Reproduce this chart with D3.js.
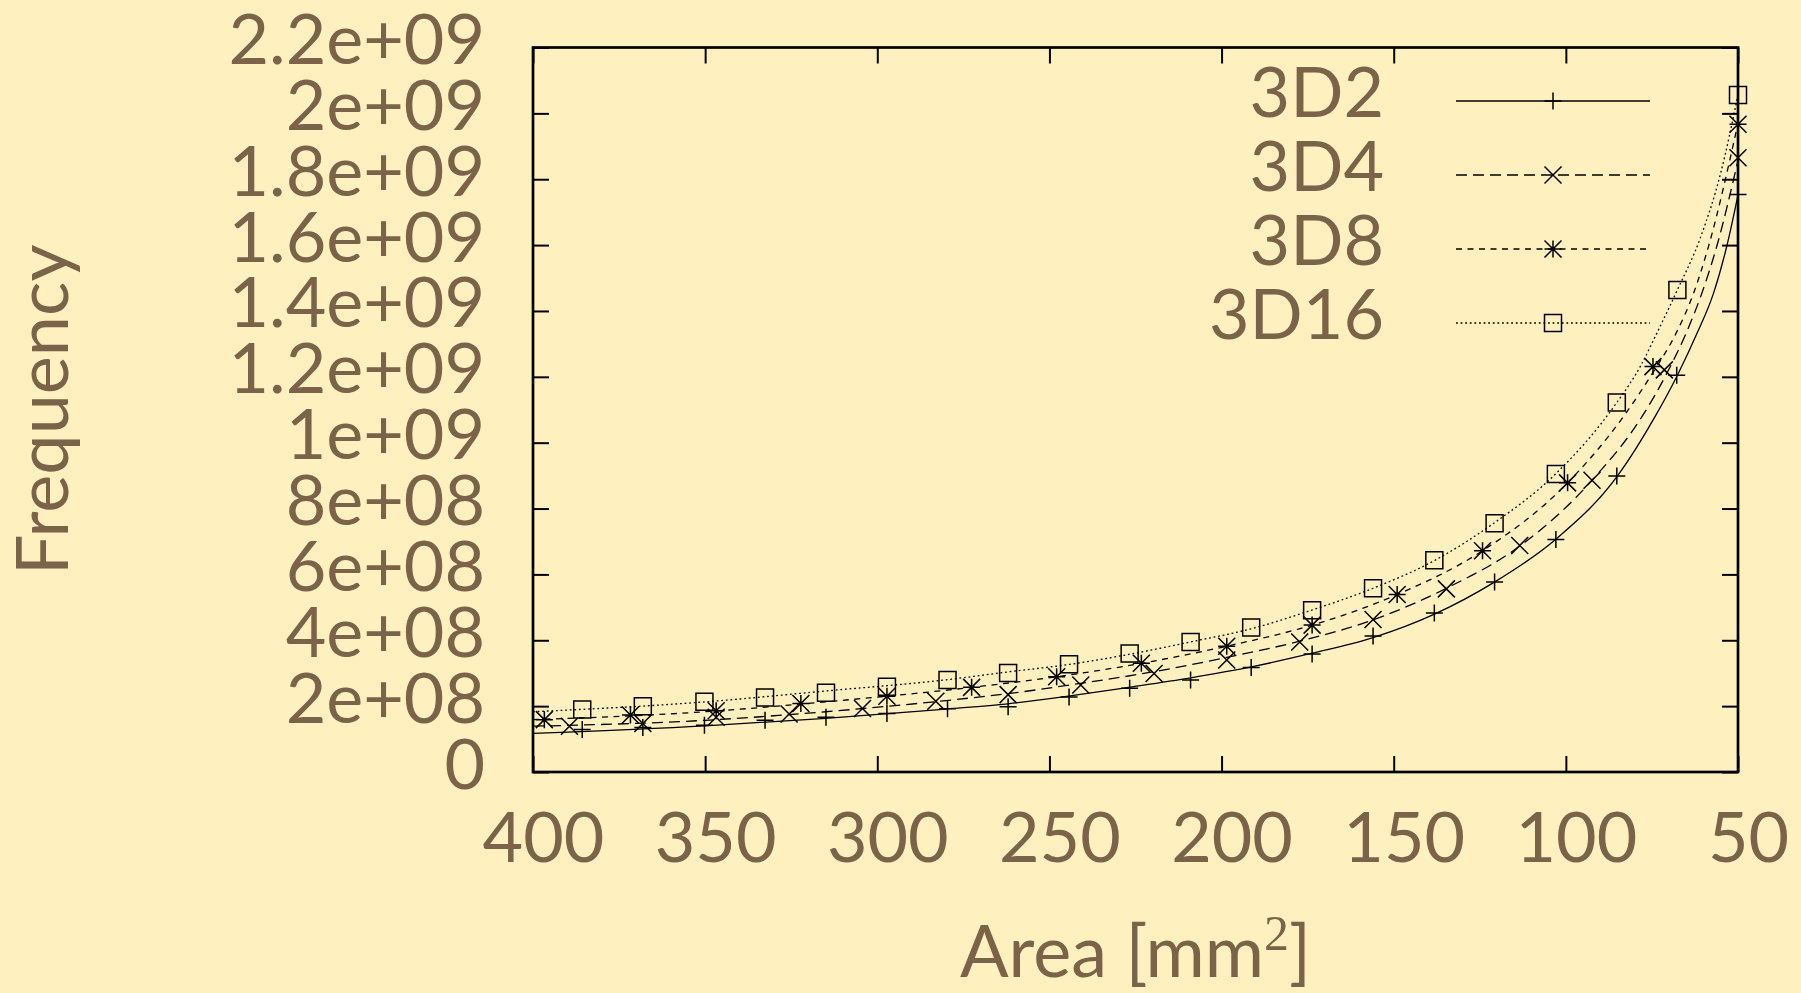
<!DOCTYPE html>
<html>
<head>
<meta charset="utf-8">
<script src="https://cdn.jsdelivr.net/npm/d3@7"></script>
<style>
  body { margin: 0; background: #fff1bf; }
  svg { display: block; }
</style>
</head>
<body>
<svg width="1801" height="993"></svg>
<script>
// measured points: [area mm^2, frequency]
var pts3D2 = [[385.7, 1.29e8], [368.1, 1.35e8], [350.2, 1.42e8], [332.6, 1.57e8], [314.9, 1.66e8],
    [297.2, 1.78e8], [279.6, 1.92e8], [262, 1.98e8], [244.3, 2.28e8], [226.7, 2.54e8],
    [209, 2.79e8], [191.4, 3.17e8], [173.7, 3.58e8], [156, 4.13e8], [138.2, 4.83e8],
    [120.7, 5.77e8], [102.9, 7.06e8], [85.2, 8.99e8], [67.8, 12.05e8], [50, 17.54e8]];
var pts3D4 = [[389.4, 1.39e8], [368.1, 1.47e8], [346.8, 1.66e8], [325.6, 1.76e8], [304.3, 1.93e8],
    [283, 2.15e8], [262, 2.35e8], [240.9, 2.64e8], [219.6, 2.99e8], [198.5, 3.40e8],
    [177.3, 3.95e8], [156, 4.63e8], [134.7, 5.56e8], [113.4, 6.88e8], [92.4, 8.86e8],
    [71.4, 12.21e8], [50, 18.65e8]];
var pts3D8 = [[396.7, 1.59e8], [371.7, 1.73e8], [346.8, 1.86e8], [322.2, 2.08e8], [297.2, 2.30e8],
    [272.6, 2.57e8], [247.9, 2.89e8], [223.3, 3.30e8], [198.5, 3.82e8], [173.7, 4.46e8],
    [149, 5.39e8], [124.2, 6.72e8], [99.5, 8.78e8], [74.7, 12.31e8], [50, 19.67e8]];
var pts3D16 = [[385.7, 1.90e8], [368.1, 2.00e8], [350.2, 2.13e8], [332.6, 2.26e8], [314.9, 2.41e8],
    [297.2, 2.59e8], [279.6, 2.79e8], [262, 3.01e8], [244.3, 3.27e8], [226.7, 3.60e8],
    [209, 3.95e8], [191.4, 4.39e8], [173.7, 4.91e8], [156, 5.58e8], [138.2, 6.43e8],
    [120.7, 7.55e8], [102.9, 9.05e8], [85.2, 11.22e8], [67.6, 14.64e8], [50, 20.56e8]];

// fitted curves (area descending)
var fit3D2 = [[400, 1.17e8], [350, 1.40e8], [315, 1.63e8], [280, 1.91e8], [262, 2.07e8], [244, 2.31e8],
    [227, 2.57e8], [209, 2.86e8], [191, 3.20e8], [174, 3.60e8], [156, 4.08e8], [138, 4.80e8],
    [121, 5.75e8], [103, 7.06e8], [85, 8.99e8], [74.1, 10.79e8], [67.6, 12.05e8], [61.9, 13.32e8],
    [57.1, 14.54e8], [53.3, 15.95e8], [50, 17.52e8]];
var fit3D4 = [[400, 1.39e8], [350, 1.57e8], [315, 1.83e8], [280, 2.17e8], [262, 2.38e8], [241, 2.69e8],
    [220, 3.04e8], [198.5, 3.48e8], [177, 3.98e8], [156, 4.62e8], [134.7, 5.58e8], [113.4, 6.86e8],
    [92.4, 8.86e8], [77.9, 10.79e8], [70.7, 12.1e8], [65.1, 13.32e8], [60.5, 14.54e8],
    [56.2, 15.95e8], [50, 18.57e8]];
var fit3D8 = [[400, 1.59e8], [350, 1.83e8], [315, 2.13e8], [272.6, 2.57e8], [248, 2.89e8], [223.3, 3.30e8],
    [198.5, 3.82e8], [173.7, 4.46e8], [149, 5.39e8], [124.2, 6.72e8], [99.5, 8.78e8], [83.3, 10.79e8],
    [74.6, 12.15e8], [68, 13.32e8], [62.9, 14.54e8], [58.6, 15.95e8], [50, 19.70e8]];
var fit3D16 = [[400, 1.83e8], [350, 2.13e8], [315, 2.46e8], [280, 2.80e8], [262, 3.04e8], [244, 3.27e8],
    [227, 3.57e8], [209, 3.95e8], [191, 4.36e8], [174, 4.91e8], [156, 5.58e8], [138, 6.43e8],
    [121, 7.55e8], [103, 9.05e8], [85.2, 11.22e8], [78.4, 12.31e8], [73.6, 13.32e8], [67.6, 14.64e8],
    [61, 16.2e8], [55, 18.2e8], [50, 20.56e8]];

var seriesNames = ["3D2", "3D4", "3D8", "3D16"];

var xTicks = [400, 350, 300, 250, 200, 150, 100, 50];
var xTickLabels = ["400", "350", "300", "250", "200", "150", "100", "50"];
var yTicks = [0, 2e8, 4e8, 6e8, 8e8, 1e9, 1.2e9, 1.4e9, 1.6e9, 1.8e9, 2e9, 2.2e9];
var yTickLabels = ["0", "2e+08", "4e+08", "6e+08", "8e+08", "1e+09", "1.2e+09", "1.4e+09",
    "1.6e+09", "1.8e+09", "2e+09", "2.2e+09"];

var textColor = "#7b6349",
    fontFamily = "Lato, 'DejaVu Sans', sans-serif",
    fontSize = 70;

var svg = d3.select("svg"),
    margin = { top: 47.5, right: 63, bottom: 221, left: 533 },
    width = +svg.attr("width") - margin.left - margin.right,
    height = +svg.attr("height") - margin.top - margin.bottom;

var x = d3.scaleLinear().domain([400, 50]).range([0, width]);
var y = d3.scaleLinear().domain([0, 2.2e9]).range([height, 0]);

// gnuplot-like stroked point types
var r = 8.5;
var symPlus = { draw: function (c) { c.moveTo(-r, 0); c.lineTo(r, 0); c.moveTo(0, -r); c.lineTo(0, r); } };
var symCross = { draw: function (c) { c.moveTo(-r, -r); c.lineTo(r, r); c.moveTo(-r, r); c.lineTo(r, -r); } };
var symStar = { draw: function (c) { symPlus.draw(c); symCross.draw(c); } };
var symSquare = { draw: function (c) { c.rect(-r, -r, 2 * r, 2 * r); } };

var series = [
    { name: seriesNames[0], pts: pts3D2, fit: fit3D2, sym: symPlus, dash: null },
    { name: seriesNames[1], pts: pts3D4, fit: fit3D4, sym: symCross, dash: "11,6" },
    { name: seriesNames[2], pts: pts3D8, fit: fit3D8, sym: symStar, dash: "6,5.5" },
    { name: seriesNames[3], pts: pts3D16, fit: fit3D16, sym: symSquare, dash: "1.8,2.8" }
];

var plot = svg.append("g")
    .attr("transform", "translate(" + margin.left + "," + margin.top + ")");

function styleAxis(g) {
    g.attr("font-family", fontFamily).attr("font-size", fontSize).style("color", "#000");
    g.select(".domain").remove();
    g.selectAll(".tick line").attr("stroke-width", 2);
    g.selectAll(".tick text").attr("fill", textColor);
}

// bottom axis with labels
plot.append("g")
    .attr("transform", "translate(0," + height + ")")
    .call(d3.axisBottom(x).tickValues(xTicks).tickSize(-16)
        .tickFormat(function (d) { return xTickLabels[xTicks.indexOf(d)]; }))
    .call(styleAxis)
    .call(function (g) { g.selectAll(".tick text").attr("dy", null).attr("y", 90).attr("dx", 10); });

// top axis, ticks only
plot.append("g")
    .call(d3.axisTop(x).tickValues(xTicks).tickSize(-16).tickFormat(""))
    .call(styleAxis);

// left axis with labels
plot.append("g")
    .call(d3.axisLeft(y).tickValues(yTicks).tickSize(-16).tickPadding(48)
        .tickFormat(function (d) { return yTickLabels[yTicks.indexOf(d)]; }))
    .call(styleAxis)
    .call(function (g) { g.selectAll(".tick text").attr("dy", 16); });

// right axis, ticks only
plot.append("g")
    .attr("transform", "translate(" + width + ",0)")
    .call(d3.axisRight(y).tickValues(yTicks).tickSize(-16).tickFormat(""))
    .call(styleAxis);

var fitLine = d3.line()
    .x(function (d) { return x(d[0]); })
    .y(function (d) { return y(d[1]); })
    .curve(d3.curveMonotoneX);

series.forEach(function (s) {
    plot.append("path")
        .datum(s.fit)
        .attr("fill", "none")
        .attr("stroke", "#000")
        .attr("stroke-width", 1.3)
        .attr("stroke-dasharray", s.dash)
        .attr("d", fitLine);

    plot.append("g")
        .selectAll("path")
        .data(s.pts)
        .enter().append("path")
        .attr("transform", function (d) { return "translate(" + x(d[0]) + "," + y(d[1]) + ")"; })
        .attr("d", d3.symbol().type(s.sym))
        .attr("fill", "none")
        .attr("stroke", "#000")
        .attr("stroke-width", 1.5);
});

// frame
plot.append("rect")
    .attr("width", width)
    .attr("height", height)
    .attr("fill", "none")
    .attr("stroke", "#000")
    .attr("stroke-width", 2.7);

// legend
var legend = svg.append("g")
    .attr("font-family", fontFamily)
    .attr("font-size", fontSize);

series.forEach(function (s, i) {
    var ly = 101 + i * 74;
    legend.append("text")
        .attr("x", 1384)
        .attr("y", ly + 16)
        .attr("text-anchor", "end")
        .attr("fill", textColor)
        .text(s.name);
    legend.append("line")
        .attr("x1", 1456).attr("x2", 1650)
        .attr("y1", ly).attr("y2", ly)
        .attr("stroke", "#000")
        .attr("stroke-width", 1.3)
        .attr("stroke-dasharray", s.dash);
    legend.append("path")
        .attr("transform", "translate(1553," + ly + ")")
        .attr("d", d3.symbol().type(s.sym))
        .attr("fill", "none")
        .attr("stroke", "#000")
        .attr("stroke-width", 1.5);
});

// axis titles
svg.append("text")
    .attr("transform", "translate(68," + (margin.top + height / 2) + ") rotate(-90)")
    .attr("text-anchor", "middle")
    .attr("font-family", fontFamily)
    .attr("font-size", 72)
    .attr("fill", textColor)
    .text("Frequency");

var xTitle = svg.append("text")
    .attr("x", margin.left + width / 2)
    .attr("y", 977)
    .attr("text-anchor", "middle")
    .attr("font-family", fontFamily)
    .attr("font-size", 72)
    .attr("fill", textColor);
xTitle.append("tspan").text("Area [mm");
xTitle.append("tspan")
    .attr("dy", -27)
    .attr("font-family", "'Liberation Serif', serif")
    .attr("font-size", 50)
    .text("2");
xTitle.append("tspan").attr("dy", 27).text("]");
</script>
</body>
</html>
